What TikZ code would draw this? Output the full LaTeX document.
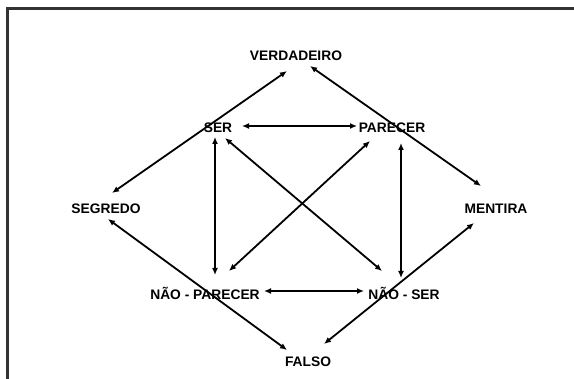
\documentclass[tikz,border=0pt]{standalone}
\usepackage{fontspec}
\setmainfont{Liberation Sans}
\usetikzlibrary{arrows.meta}

\begin{document}
\begin{tikzpicture}[x=1pt, y=-1pt,
  rotulo/.style={font=\bfseries\fontsize{13.8}{16}\selectfont, inner sep=0pt},
  seta/.style={line width=1.8pt, {Latex[length=7pt,width=6pt]}-{Latex[length=7pt,width=6pt]}}]
\useasboundingbox (0,0) rectangle (574,379);
\draw[black!80, line width=3pt] (7,381) -- (7,9) -- (576,9);
\node[rotulo] (verdadeiro) at (296,56) {VERDADEIRO};
\node[rotulo] (ser) at (218,128) {SER};
\node[rotulo] (parecer) at (392,128) {PARECER};
\node[rotulo] (segredo) at (106,209) {SEGREDO};
\node[rotulo] (mentira) at (496,209) {MENTIRA};
\node[rotulo] (naoparecer) at (205,293) {NÃO - PARECER};
\node[rotulo] (naoser) at (404,293) {NÃO - SER};
\node[rotulo] (falso) at (308,362) {FALSO};
% losango de fora
\draw[seta] ([shift={(6,-16)}]segredo.center) -- ([shift={(-9,15)}]verdadeiro.center);
\draw[seta] ([shift={(14,10)}]verdadeiro.center) -- ([shift={(-15,-23)}]mentira.center);
\draw[seta] ([shift={(2,10)}]segredo.center) -- ([shift={(-21,-12)}]falso.center);
\draw[seta] ([shift={(-22,14)}]mentira.center) -- ([shift={(16,-18)}]falso.center);
% quadrado de dentro
\draw[seta] ([shift={(24,-2)}]ser.center) -- ([shift={(-35,-2)}]parecer.center);
\draw[seta] ([shift={(59,-2)}]naoparecer.center) -- ([shift={(-40,-2)}]naoser.center);
\draw[seta] ([shift={(-3,9)}]ser.center) -- ([shift={(10,-18)}]naoparecer.center);
\draw[seta] ([shift={(9,15)}]parecer.center) -- ([shift={(-3,-15)}]naoser.center);
\draw[seta] ([shift={(7,10)}]ser.center) -- ([shift={(-22,-22)}]naoser.center);
\draw[seta] ([shift={(-22,13)}]parecer.center) -- ([shift={(24,-22)}]naoparecer.center);
\end{tikzpicture}
\end{document}
